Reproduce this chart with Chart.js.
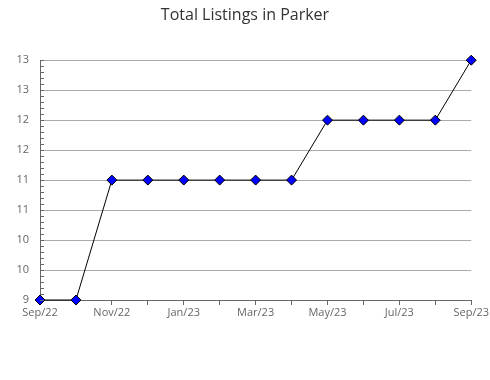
<!DOCTYPE html>
<html>
<head>
<meta charset="utf-8">
<script src="https://cdn.jsdelivr.net/npm/chart.js@4"></script>
<style>
  body { margin: 0; background: #fff; }
  #wrap { width: 490px; height: 380px; }
</style>
</head>
<body>
<div id="wrap"><canvas id="myChart" width="490" height="380"></canvas></div>
<script>
const months = ["Sep/22","Oct/22","Nov/22","Dec/22","Jan/23","Feb/23","Mar/23",
                "Apr/23","May/23","Jun/23","Jul/23","Aug/23","Sep/23"];
const listings = [9, 9, 11, 11, 11, 11, 11, 11, 12, 12, 12, 12, 13];
const yMin = 9;
const yMax = 13;

// small inner ticks on the y axis, every 0.1
const minorTicks = {
  id: "minorTicks",
  afterDraw(chart) {
    const y = chart.scales.y;
    const c = chart.ctx;
    c.save();
    c.strokeStyle = "#666";
    c.lineWidth = 1;
    for (let v = yMin; v <= yMax + 0.001; v += 0.1) {
      const py = Math.round(y.getPixelForValue(v)) + 0.5;
      c.beginPath();
      c.moveTo(y.right, py);
      c.lineTo(y.right + 4, py);
      c.stroke();
    }
    c.restore();
  }
};

const ctx = document.getElementById("myChart");

new Chart(ctx, {
  type: "line",
  data: {
    labels: months,
    datasets: [{
      data: listings,
      borderColor: "#000",
      borderWidth: 1,
      tension: 0,
      pointStyle: "rectRot",
      pointRadius: 5,
      pointHoverRadius: 5,
      pointBackgroundColor: "#0000ff",
      pointBorderColor: "#000",
      pointBorderWidth: 1,
      clip: false
    }]
  },
  options: {
    responsive: false,
    animation: false,
    layout: { padding: 0 },
    plugins: {
      legend: { display: false },
      tooltip: { enabled: false },
      title: {
        display: true,
        text: "Total Listings in Parker",
        color: "#333",
        font: { family: "Open Sans", size: 16, weight: "normal" },
        padding: { top: 6, bottom: 35 }
      }
    },
    scales: {
      x: {
        offset: false,
        grid: { drawOnChartArea: false, drawTicks: true, tickLength: 5, tickColor: "#666" },
        border: { color: "#666" },
        ticks: {
          autoSkip: false,
          maxRotation: 0,
          padding: 1,
          color: "#666",
          font: { family: "Open Sans", size: 11 },
          callback: (v, i) => (i % 2 === 0 ? months[i] : "")
        },
        afterFit: (s) => { s.height = 80; }
      },
      y: {
        min: yMin,
        max: yMax,
        grid: { color: "#aaa", drawTicks: false },
        border: { color: "#666" },
        ticks: {
          stepSize: 0.5,
          padding: 11,
          color: "#666",
          font: { family: "Open Sans", size: 11 },
          callback: (v) => Math.round(v)
        },
        afterFit: (s) => { s.width = 40; }
      }
    }
  },
  plugins: [minorTicks]
});
</script>
</body>
</html>
